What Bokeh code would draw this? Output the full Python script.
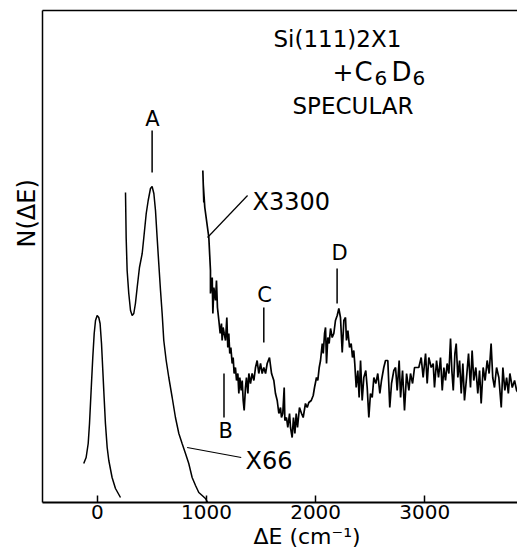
from bokeh.plotting import figure
from bokeh.models import ColumnDataSource, Label, FixedTicker, LinearAxis, Title
from bokeh.embed import file_html
from bokeh.resources import INLINE

# ---------------- data ----------------
# elastic peak (x1)
elastic_x = [-126, -104, -85, -73, -64, -55, -43, -30, -18, -3, 12, 24, 37, 49, 61, 73, 89, 104, 134, 165, 211]
elastic_y = [39, 45, 59, 79, 99, 119, 145, 169, 182, 187, 185, 179, 159, 132, 105, 79, 55, 42, 25, 14, 5]

# x66 spectrum
x66_x = [257, 263, 272, 287, 303, 318, 333, 348, 364, 385, 410, 425, 447, 465, 486, 501, 517, 532, 547,
         562, 578, 593, 608, 630, 654, 685, 715, 746, 776, 807, 837, 868, 899, 929, 960, 990, 1011]
x66_y = [310, 265, 232, 209, 192, 187, 189, 199, 215, 235, 249, 265, 289, 302, 314, 316, 309, 292, 265,
         239, 212, 189, 162, 142, 125, 105, 85, 69, 59, 49, 39, 25, 17, 10, 7, 4, 0]

# x3300 spectrum
x3300_x = [966, 975, 970, 984, 1021, 1036, 1036, 1052, 1058, 1067, 1082, 1091, 1100, 1113, 1125, 1137, 1143,
           1152, 1162, 1174, 1186, 1195, 1204, 1213, 1223, 1235, 1244, 1253, 1265, 1275, 1287, 1296, 1305,
           1318, 1327, 1336, 1345, 1357, 1366, 1379, 1388, 1403, 1418, 1434, 1449, 1464, 1479, 1495, 1510,
           1525, 1541, 1556, 1577, 1596, 1617, 1632, 1648, 1663, 1678, 1687, 1699, 1712, 1718, 1733, 1745,
           1761, 1770, 1785, 1797, 1810, 1822, 1834, 1852, 1871, 1886, 1907, 1923, 1938, 1960, 1978, 1990,
           2008, 2020, 2033, 2045, 2061, 2070, 2082, 2091, 2100, 2112, 2124, 2137, 2152, 2167, 2182, 2198,
           2213, 2228, 2244, 2259, 2274, 2283, 2296, 2311, 2326, 2338, 2350, 2359, 2372, 2387, 2399, 2412,
           2427, 2442, 2460, 2473, 2488, 2503, 2519, 2534, 2552, 2570, 2589, 2604, 2625, 2641, 2662, 2680,
           2696, 2717, 2733, 2748, 2766, 2779, 2797, 2815, 2834, 2855, 2870, 2889, 2907, 2946, 2968, 2986,
           3008, 3023, 3038, 3060, 3078, 3090, 3109, 3127, 3145, 3161, 3176, 3191, 3206, 3222, 3237, 3249,
           3262, 3277, 3289, 3304, 3320, 3335, 3350, 3365, 3384, 3402, 3420, 3435, 3450, 3469, 3487, 3503,
           3518, 3536, 3554, 3573, 3591, 3609, 3624, 3640, 3659, 3680, 3702, 3717, 3735, 3751, 3767, 3781,
           3803, 3824, 3843, 3864, 3886, 3904, 3925]
x3300_y = [332, 300, 318, 295, 265, 232, 209, 225, 189, 215, 202, 222, 195, 182, 169, 179, 162,
           175, 169, 162, 185, 155, 169, 149, 155, 139, 145, 129, 135, 122, 129, 109, 125,
           112, 122, 102, 92, 115, 125, 109, 129, 119, 129, 122, 135, 142, 129, 139, 129,
           135, 129, 139, 145, 129, 122, 109, 102, 89, 95, 85, 89, 115, 82, 85, 75,
           89, 75, 65, 85, 69, 89, 75, 95, 89, 85, 99, 95, 100, 102, 107, 115,
           125, 122, 135, 142, 159, 149, 169, 175, 139, 165, 159, 174, 165, 169, 182, 187,
           194, 185, 150, 182, 185, 162, 172, 155, 159, 145, 152, 139, 115, 132, 105, 142,
           102, 125, 132, 115, 85, 109, 105, 125, 119, 129, 109, 122, 135, 142, 142, 95,
           119, 132, 135, 112, 142, 105, 132, 92, 129, 112, 129, 119, 135, 135, 145, 125,
           149, 119, 145, 135, 139, 115, 142, 125, 145, 112, 135, 122, 139, 129, 164, 132,
           112, 149, 159, 125, 142, 109, 139, 102, 125, 149, 115, 152, 122, 135, 109, 132,
           99, 135, 122, 142, 129, 159, 125, 115, 135, 125, 95, 135, 112, 125, 109, 129,
           115, 122, 112, 109, 115, 119, 115]

# peak markers
peak_names = ["A", "B", "C", "D"]
peak_pos = [501, 1160, 1525, 2197]

x_ticks = [0, 1000, 2000, 3000]

# ---------------- figure ----------------
p = figure(width=517, height=552, output_backend="svg", toolbar_location=None,
           x_range=(-504, 3851), y_range=(0, 492),
           min_border_left=42, min_border_top=10, min_border_right=0, min_border_bottom=50)
p.background_fill_color = "white"
p.border_fill_color = "white"
p.outline_line_color = None
p.grid.visible = False

FONT = "DejaVu Sans"

# x axis
xa = p.xaxis[0]
xa.ticker = FixedTicker(ticks=x_ticks)
xa.major_tick_in = 7
xa.major_tick_out = 0
xa.minor_tick_line_color = None
xa.axis_line_width = 2
xa.major_tick_line_width = 1.5
xa.major_label_text_font = FONT
xa.major_label_text_font_size = "20px"
xa.major_label_text_color = "black"
xa.major_label_standoff = 2

# y axis: no ticks
ya = p.yaxis[0]
ya.ticker = FixedTicker(ticks=[])
ya.major_tick_line_color = None
ya.minor_tick_line_color = None
ya.axis_line_width = 1.5
ya.major_label_text_font_size = "0px"
ya.major_label_standoff = 0

# top border line
top = LinearAxis(ticker=FixedTicker(ticks=[]), axis_line_width=1.5,
                 major_tick_line_color=None, minor_tick_line_color=None,
                 major_label_text_font_size="0px")
p.add_layout(top, "above")

# axis titles (placed off-centre as in the original)
p.add_layout(Title(text="\u0394E (cm\u207b\u00b9)", align="left", offset=211, standoff=0,
                   text_font=FONT, text_font_size="22px", text_font_style="normal",
                   text_color="black"), "below")
p.add_layout(Title(text="N(\u0394E)", align="left", offset=255, standoff=4,
                   text_font=FONT, text_font_size="24px", text_font_style="normal",
                   text_color="black"), "left")

# spectra
p.line(elastic_x, elastic_y, line_color="black", line_width=1.5)
p.line(x66_x, x66_y, line_color="black", line_width=1.5)
p.line(x3300_x, x3300_y, line_color="black", line_width=1.7)

# peak marker ticks
mark_y0 = [330, 85, 160, 199]
mark_y1 = [372, 129, 195, 234]
msrc = ColumnDataSource(dict(x0=peak_pos, y0=mark_y0, x1=peak_pos, y1=mark_y1))
p.segment("x0", "y0", "x1", "y1", source=msrc, line_color="black", line_width=1.5)

label_xy = [(504, 384), (1176, 72), (1532, 208), (2219, 250)]
for name, (lx, ly) in zip(peak_names, label_xy):
    p.add_layout(Label(x=lx, y=ly, text=name, text_align="center", text_baseline="middle",
                       text_font=FONT, text_font_size="21px", text_color="black"))

# scale factor leaders
p.segment(x0=[1009, 822], y0=[265, 55], x1=[1376, 1318], y1=[307, 45],
          line_color="black", line_width=1.2)
p.add_layout(Label(x=1421, y=301, text="X3300", text_align="left", text_baseline="middle",
                   text_font=FONT, text_font_size="24px", text_color="black"))
p.add_layout(Label(x=1357, y=42, text="X66", text_align="left", text_baseline="middle",
                   text_font=FONT, text_font_size="24px", text_color="black"))

# title block
p.add_layout(Label(x=1614, y=464, text="Si(111)2X1", text_align="left", text_baseline="middle",
                   text_font=FONT, text_font_size="23px", text_color="black"))
for txt, tx, ty, fs in [("+", 2155, 431, "25px"), ("C", 2357, 431, "26px"), ("6", 2540, 425, "20px"),
                        ("D", 2696, 431, "26px"), ("6", 2889, 425, "20px")]:
    p.add_layout(Label(x=tx, y=ty, text=txt, text_align="left", text_baseline="middle",
                       text_font=FONT, text_font_size=fs, text_color="black"))
p.add_layout(Label(x=1788, y=397, text="SPECULAR", text_align="left", text_baseline="middle",
                   text_font=FONT, text_font_size="23px", text_color="black"))

open("out.html", "w").write(file_html(p, INLINE))
